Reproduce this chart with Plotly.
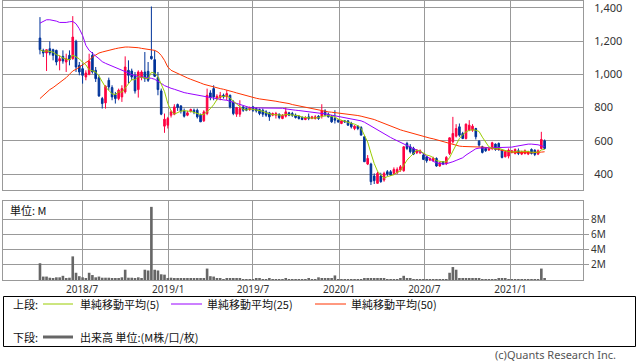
import pandas as pd
import plotly.graph_objects as go

# ---------------- data (weekly bars) ----------------
weeks = pd.date_range("2018-04-02", periods=155, freq="7D")

open_ = [1218,1144,1128,1154,1148,1144,1080,1108,1074,1114,
         1094,1198,1054,1034,984,1000,1114,1024,980,854,
         828,964,920,878,854,864,894,1024,1020,994,
         908,980,1014,1018,1108,1088,980,900,688,694,
         754,760,818,810,780,754,778,784,784,754,
         720,764,888,914,854,860,874,864,874,834,
         760,760,804,794,788,804,794,788,784,774,
         768,754,754,760,734,748,768,764,754,748,
         740,728,744,734,734,748,748,780,760,748,
         734,724,704,720,720,704,674,688,680,624,
         460,460,388,344,388,364,414,414,404,408,
         424,420,584,564,554,528,528,514,504,484,
         480,494,448,474,464,524,594,628,684,644,
         614,664,664,674,598,564,554,544,554,580,
         584,544,504,508,530,524,540,520,524,520,
         548,544,520,554,600]

high = [1344,1154,1148,1198,1154,1148,1114,1144,1124,1144,
        1350,1208,1074,1064,1024,1124,1134,1044,994,864,
        934,980,934,894,914,934,1108,1084,1034,1014,
        1024,1024,1134,1074,1408,1144,1014,914,764,744,
        784,820,824,814,794,780,794,794,794,764,
        784,914,904,934,880,894,884,904,878,844,
        804,844,808,800,806,810,800,794,794,784,
        774,770,774,764,760,800,774,774,764,754,
        748,748,764,750,754,754,820,790,770,754,
        784,730,724,724,724,714,694,694,688,628,
        514,468,404,414,408,414,424,424,440,440,
        454,568,594,580,564,550,548,524,508,500,
        504,500,472,478,508,620,744,700,704,654,
        704,724,700,678,604,570,560,556,594,584,
        590,548,540,554,544,554,554,540,548,540,
        554,548,548,654,608]

low = [1120,1104,1020,1114,1084,1054,1024,1064,1014,1054,
       1088,1014,994,944,964,994,1004,954,864,794,
       794,904,844,824,844,834,884,944,964,884,
       860,964,954,954,1088,984,874,754,648,674,
       740,754,780,764,740,748,770,760,734,714,
       714,754,844,844,844,844,854,844,794,754,
       744,744,774,778,780,774,770,754,744,744,
       720,748,734,730,730,740,748,744,734,728,
       724,724,724,730,728,726,734,748,740,708,
       704,708,700,708,690,674,664,664,634,474,
       454,334,340,344,348,354,388,388,394,400,
       414,414,544,524,514,520,520,484,468,478,
       474,444,444,454,454,514,584,620,624,610,
       608,658,654,608,564,524,534,540,544,540,
       540,494,500,494,524,518,514,514,518,514,
       518,508,514,548,548]

close = [1148,1128,1148,1128,1114,1074,1094,1080,1094,1088,
         1224,1044,1014,994,1008,1078,1014,974,870,824,
         928,924,864,854,904,914,1044,994,984,900,
         1014,1014,974,964,1094,988,908,760,730,734,
         774,804,800,780,748,768,788,774,744,714,
         774,874,860,864,868,874,864,884,804,764,
         800,794,784,784,800,784,780,764,760,754,
         744,764,764,740,754,774,754,754,740,734,
         728,740,734,744,744,734,780,756,744,714,
         724,714,720,714,694,684,688,674,634,474,
         494,354,360,404,354,404,400,394,428,428,
         444,564,554,534,520,544,540,488,480,494,
         494,448,468,460,500,618,644,674,634,614,
         700,694,688,624,574,530,540,550,588,548,
         548,500,534,544,540,548,524,534,540,534,
         524,518,540,608,554]

# 25- and 50-week simple moving averages as drawn in the reference
ma25 = [1308,1320,1328,1328,1326,1320,1312,1310,1312,1316,
        1318,1304,1274,1234,1174,1144,1124,1110,1094,1076,
        1066,1058,1050,1044,1036,1026,1018,1008,998,990,
        986,984,982,980,976,970,960,946,932,922,
        916,910,902,896,890,886,882,878,874,870,
        866,864,860,858,854,850,846,844,838,832,
        826,818,810,804,800,798,798,796,796,798,
        800,800,800,798,796,792,788,786,784,782,
        780,778,774,772,770,768,764,762,758,754,
        750,748,744,742,738,734,730,726,720,712,
        700,688,676,664,654,642,630,620,610,600,
        590,580,570,560,552,544,534,524,508,492,
        476,468,462,460,462,466,474,482,490,498,
        514,528,542,552,556,558,558,558,558,558,
        558,558,558,558,562,566,570,574,578,580,
        580,580,576,570,564]

ma50 = [854,874,894,908,920,934,952,964,980,1000,
        1020,1030,1044,1058,1072,1084,1104,1116,1128,1134,
        1140,1144,1148,1154,1158,1162,1164,1164,1164,1162,
        1160,1156,1152,1148,1144,1144,1134,1114,1084,1044,
        1024,1014,1004,994,984,978,970,964,956,948,
        940,934,928,924,920,914,910,906,900,894,
        888,882,876,870,864,860,856,852,850,848,
        844,842,838,834,832,828,824,818,814,808,
        804,800,794,790,786,782,778,776,774,772,
        770,768,766,764,762,760,756,752,748,744,
        740,734,728,720,712,704,694,688,682,674,
        666,660,654,648,642,636,630,624,620,616,
        612,606,600,594,588,582,576,572,568,566,
        566,564,564,564,564,562,560,558,556,552,
        548,542,538,534,532,530,530,528,528,528,
        528,528,530,532,534]

# volume in millions
volume_m = [2.2,0.45,0.45,0.3,0.15,0.35,0.35,0.55,0.25,0.3,
            3.1,0.95,0.5,0.35,0.15,0.95,0.65,0.35,0.45,0.3,
            0.3,0.3,0.15,0.15,0.2,0.35,1.35,0.3,0.3,0.25,
            0.35,0.2,1.35,1.25,9.6,1.35,1.25,0.75,0.7,0.25,
            0.3,0.2,0.2,0.2,0.15,0.15,0.15,0.15,0.2,0.2,
            0.25,1.5,0.5,0.45,0.2,0.15,0.1,0.15,0.15,0.15,
            0.2,0.2,0.1,0.1,0.1,0.1,0.15,0.15,0.1,0.1,
            0.15,0.1,0.1,0.05,0.1,0.2,0.1,0.05,0.05,0.05,
            0.1,0.05,0.15,0.1,0.1,0.35,0.2,0.2,0.15,0.2,
            0.6,0.1,0.05,0.05,0.05,0.1,0.1,0.05,0.1,0.15,
            0.25,0.2,0.25,0.2,0.15,0.2,0.1,0.1,0.1,0.1,
            0.15,0.55,0.25,0.2,0.1,0.05,0.05,0.05,0.05,0.05,
            0.05,0.05,0.05,0.1,0.1,0.95,1.7,1.35,0.25,0.25,
            0.2,0.25,0.2,0.15,0.15,0.1,0.05,0.05,0.05,0.05,
            0.15,0.15,0.15,0.05,0.05,0.05,0.05,0.05,0.05,0.05,
            0.1,0.1,0.05,1.5,0.2]

x_tick_vals = ["2018-07-01", "2019-01-01", "2019-07-01", "2020-01-01", "2020-07-01", "2021-01-01"]
x_tick_text = ["2018/7", "2019/1", "2019/7", "2020/1", "2020/7", "2021/1"]
price_ticks = [400, 600, 800, 1000, 1200, 1400]
vol_ticks = [2, 4, 6, 8]
vol_tick_text = ["2M", "4M", "6M", "8M"]

ma5 = pd.Series(close).rolling(5, min_periods=1).mean()

# ---------------- style ----------------
W, H = 638, 362
RED = "#FF0040"
BLUE = "#003399"
GREEN = "#99CC00"
PURPLE = "#9900FF"
ORANGE = "#FF3300"
VOLC = "#666666"
GRID = "#999999"
FONT = "Noto Sans, Noto Sans CJK JP, sans-serif"
JFONT = "Noto Sans CJK JP, Noto Sans, sans-serif"


def px(x):
    return x / W


def py(y):
    return 1 - y / H


fig = go.Figure()
fig.add_trace(go.Candlestick(
    x=weeks, open=open_, high=high, low=low, close=close,
    increasing=dict(line=dict(color=RED, width=1), fillcolor=RED),
    decreasing=dict(line=dict(color=BLUE, width=1), fillcolor=BLUE),
    whiskerwidth=0, xaxis="x", yaxis="y", showlegend=False, hoverinfo="skip"))
for vals, col in [(ma50, ORANGE), (ma25, PURPLE), (ma5, GREEN)]:
    fig.add_trace(go.Scatter(x=weeks, y=vals, mode="lines",
                             line=dict(color=col, width=1),
                             xaxis="x", yaxis="y", showlegend=False, hoverinfo="skip"))
fig.add_trace(go.Bar(x=weeks, y=volume_m, marker=dict(color=VOLC, line=dict(width=0)),
                     xaxis="x2", yaxis="y2", showlegend=False, hoverinfo="skip"))

x_range = ["2018-01-13", "2021-06-05"]
common_x = dict(type="date", range=x_range, tickvals=x_tick_vals, ticktext=x_tick_text,
                showgrid=True, gridcolor=GRID, gridwidth=1, showline=True, linecolor=GRID,
                linewidth=1, mirror=True, ticks="", zeroline=False)

fig.update_layout(
    width=W, height=H, margin=dict(l=0, r=0, t=0, b=0),
    paper_bgcolor="white", plot_bgcolor="white",
    font=dict(family=FONT, size=11, color="#333333"),
    bargap=0.2, showlegend=False,
    xaxis=dict(domain=[px(3), px(583)], anchor="y", showticklabels=False,
               rangeslider=dict(visible=False), **common_x),
    xaxis2=dict(domain=[px(3), px(583)], anchor="y2", matches="x", showticklabels=True,
                tickfont=dict(size=10, color="#333333"), **common_x),
    yaxis=dict(domain=[py(190), py(0.5)], range=[304, 1444], side="right",
               tickvals=price_ticks, tickformat=",", showgrid=True, gridcolor=GRID,
               showline=True, linecolor=GRID, mirror=True, ticks="", ticklabelstandoff=8,
               ticklabeloverflow="allow",
               zeroline=False, tickfont=dict(size=11, color="#333333")),
    yaxis2=dict(domain=[py(280), py(201)], range=[0, 10.37], side="right",
                tickvals=vol_ticks, ticktext=vol_tick_text, showgrid=True, gridcolor=GRID,
                showline=True, linecolor=GRID, mirror=True, ticks="outside", ticklen=5,
                tickcolor=GRID, zeroline=False, tickfont=dict(size=10, color="#333333")),
)

shapes = [
    dict(type="rect", xref="paper", yref="paper", x0=px(3.5), x1=px(635.5), y0=py(346.5), y1=py(296.5),
         line=dict(color="black", width=1)),
    dict(type="line", xref="paper", yref="paper", x0=px(43), x1=px(73), y0=py(304), y1=py(304),
         line=dict(color=GREEN, width=1)),
    dict(type="line", xref="paper", yref="paper", x0=px(171), x1=px(202), y0=py(304), y1=py(304),
         line=dict(color=PURPLE, width=1)),
    dict(type="line", xref="paper", yref="paper", x0=px(315), x1=px(346), y0=py(304), y1=py(304),
         line=dict(color=ORANGE, width=1)),
    dict(type="line", xref="paper", yref="paper", x0=px(43), x1=px(73), y0=py(337), y1=py(337),
         line=dict(color=VOLC, width=3)),
]
fig.update_layout(shapes=shapes)


def label(text, x, y, anchor="left", size=11, color="#111111", family=JFONT):
    fig.add_annotation(text=text, xref="paper", yref="paper", x=px(x), y=py(y),
                       xanchor=anchor, yanchor="middle", showarrow=False,
                       font=dict(family=family, size=size, color=color))


label("上段:", 11, 304)
label("単純移動平均(5)", 78, 304)
label("単純移動平均(25)", 205, 304)
label("単純移動平均(50)", 349, 304)
label("下段:", 11, 337)
label("出来高 単位:(M株/口/枚)", 78, 337)
label("単位: M", 8, 210)
label("(c)Quants Research Inc.", 618, 354, anchor="right", color="#555555", family=FONT)

fig.write_html("out.html", config={"displayModeBar": False},
               post_script="document.body.style.margin='0';document.body.style.overflow='hidden';")
